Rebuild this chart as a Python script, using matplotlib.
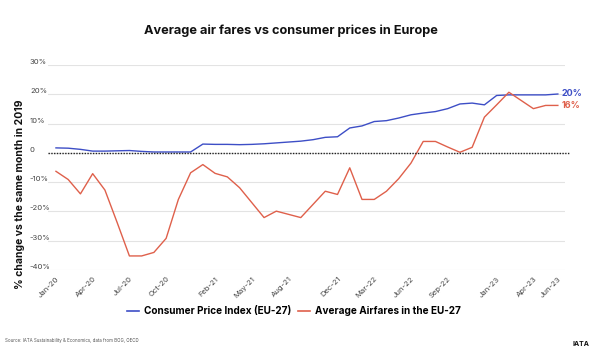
import matplotlib
matplotlib.use("Agg")
import matplotlib.pyplot as plt
from matplotlib.lines import Line2D

months = ["Jan-20","Feb-20","Mar-20","Apr-20","May-20","Jun-20","Jul-20","Aug-20","Sep-20","Oct-20","Nov-20","Dec-20",
          "Jan-21","Feb-21","Mar-21","Apr-21","May-21","Jun-21","Jul-21","Aug-21","Sep-21","Oct-21","Nov-21","Dec-21",
          "Jan-22","Feb-22","Mar-22","Apr-22","May-22","Jun-22","Jul-22","Aug-22","Sep-22","Oct-22","Nov-22","Dec-22",
          "Jan-23","Feb-23","Mar-23","Apr-23","May-23","Jun-23"]

cpi = [1.7, 1.6, 1.2, 0.6, 0.6, 0.7, 0.8, 0.5, 0.3, 0.3, 0.3, 0.3,
       3.0, 2.9, 2.9, 2.8, 2.9, 3.1, 3.4, 3.7, 4.0, 4.5, 5.3, 5.5,
       8.5, 9.2, 10.7, 11.0, 11.9, 13.0, 13.6, 14.1, 15.1, 16.7, 17.0, 16.4,
       19.6, 19.8, 19.8, 19.8, 19.8, 20.1]

airfares = [-6.3, -9.1, -14.0, -7.1, -12.7, -23.8, -35.2, -35.2, -34.0, -29.2, -15.9, -6.8,
            -4.0, -7.0, -8.2, -11.9, -17.0, -22.1, -19.9, -21.0, -22.1, -17.6, -13.1, -14.2,
            -5.1, -15.9, -15.9, -13.1, -8.8, -3.5, 3.9, 3.9, 2.0, 0.2, 1.9, 12.2,
            16.4, 20.7, 17.9, 15.1, 16.2, 16.2]

tick_labels = ["Jan-20","Apr-20","Jul-20","Oct-20","Feb-21","May-21","Aug-21","Dec-21",
               "Mar-22","Jun-22","Sep-22","Jan-23","Apr-23","Jun-23"]
yticks = [-40, -30, -20, -10, 0, 10, 20, 30]

title = "Average air fares vs consumer prices in Europe"
ylabel = "% change vs the same month in 2019"
series_names = ["Consumer Price Index (EU-27)", "Average Airfares in the EU-27"]
source = "Source: IATA Sustainability & Economics, data from BOG, OECD"

BLUE = "#3d4ec6"
RED = "#df604b"

plt.rcParams['font.family'] = ['Inter', 'DejaVu Sans']

fig = plt.figure(figsize=(6, 3.6), dpi=100)
ax = fig.add_axes([0.08, 0.25, 0.862, 0.5694])

x = list(range(len(months)))
ax.plot(x, cpi, color=BLUE, lw=1.0)
ax.plot(x, airfares, color=RED, lw=1.0)

ax.set_xlim(-0.65, len(months) - 1 + 0.6)
ax.set_ylim(-40, 30)
ax.set_yticks(yticks)
ax.set_yticklabels([("0" if v == 0 else f"{v}%") for v in yticks],
                   fontsize=5.5, color="#444444", ha="left")
ax.tick_params(axis='y', length=0, pad=13)
for lbl in ax.get_yticklabels():
    lbl.set_va('bottom')

ax.set_xticks([months.index(m) for m in tick_labels])
ax.set_xticklabels(tick_labels, rotation=45, ha="right", rotation_mode="anchor",
                   fontsize=5.5, color="#444444")
ax.tick_params(axis='x', length=0, pad=4)

ax.grid(axis='y', color="#e3e3e3", lw=0.8)
ax.set_axisbelow(True)
for s in ax.spines.values():
    s.set_visible(False)
ax.axhline(0, color="#222222", lw=1.0, ls=(0, (1, 1)), xmin=0, xmax=1.01, clip_on=False)

ax.text(len(months) - 1 + 0.3, cpi[-1] + 0.3, f"{round(cpi[-1])}%", color=BLUE,
        fontsize=6.5, fontweight='bold', va='center', ha='left')
ax.text(len(months) - 1 + 0.3, airfares[-1], f"{round(airfares[-1])}%", color=RED,
        fontsize=6.5, fontweight='bold', va='center', ha='left')

fig.text(0.485, 0.915, title, ha='center', va='center', fontsize=9.2, fontweight='bold', color="#111111")
fig.text(0.033, 0.46, ylabel, rotation=90, ha='center', va='center', fontsize=7.5,
         fontweight='bold', color="#111111")

handles = [Line2D([0], [0], color=BLUE, lw=1.2), Line2D([0], [0], color=RED, lw=1.2)]
fig.legend(handles, series_names, loc='center', bbox_to_anchor=(0.49, 0.135), ncol=2,
           frameon=False, handlelength=1.2, handletextpad=0.5, columnspacing=0.6,
           prop={'weight': 'bold', 'size': 7.2})

fig.text(0.008, 0.055, source, fontsize=3.2, color="#555555", ha='left', va='center')
fig.text(0.968, 0.045, "IATA", fontsize=5, fontweight='bold', color="#111111", ha='center', va='center')

fig.savefig("out.png", dpi=100)
